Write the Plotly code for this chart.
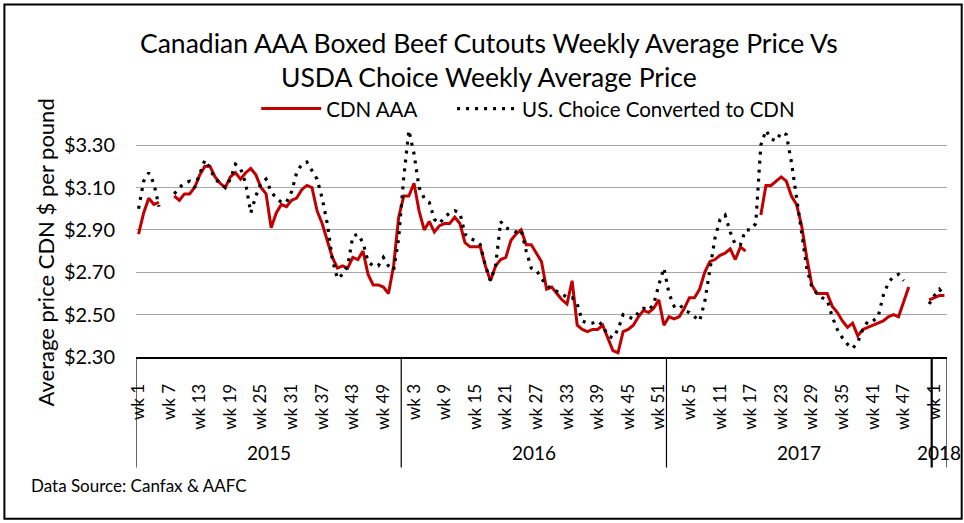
import plotly.graph_objects as go

# ---------------- data ----------------
years = ["2015", "2016", "2017", "2018"]
weeks_in_year = [52, 52, 52, 3]

cdn_2015 = [2.88, 2.98, 3.05, 3.02, 3.03, None, None, 3.06, 3.04, 3.07,
            3.07, 3.10, 3.16, 3.20, 3.20, 3.15, 3.12, 3.10, 3.15, 3.17,
            3.14, 3.17, 3.19, 3.16, 3.10, 3.07, 2.91, 2.98, 3.02, 3.01,
            3.04, 3.05, 3.09, 3.11, 3.10, 2.99, 2.93, 2.85, 2.77, 2.72,
            2.73, 2.72, 2.77, 2.76, 2.80, 2.69, 2.64, 2.64, 2.63, 2.60,
            2.73, 2.96]
cdn_2016 = [3.06, 3.06, 3.12, 2.99, 2.90, 2.94, 2.89, 2.92, 2.93, 2.93,
            2.96, 2.93, 2.84, 2.82, 2.82, 2.82, 2.73, 2.66, 2.73, 2.76,
            2.77, 2.85, 2.88, 2.90, 2.83, 2.83, 2.79, 2.75, 2.62, 2.63,
            2.60, 2.57, 2.55, 2.66, 2.45, 2.43, 2.42, 2.43, 2.43, 2.45,
            2.39, 2.33, 2.32, 2.42, 2.43, 2.45, 2.49, 2.52, 2.51, 2.53,
            2.57, 2.45]
cdn_2017 = [2.49, 2.48, 2.49, 2.53, 2.58, 2.58, 2.62, 2.70, 2.75, 2.76,
            2.78, 2.79, 2.81, 2.76, 2.82, 2.80, None, None, 2.97, 3.11,
            3.11, 3.13, 3.15, 3.13, 3.06, 3.02, 2.92, 2.77, 2.64, 2.60,
            2.60, 2.60, 2.54, 2.51, 2.47, 2.44, 2.46, 2.40, 2.43, 2.44,
            2.45, 2.46, 2.47, 2.49, 2.50, 2.49, 2.56, 2.63, None, None,
            None, 2.57]
cdn_2018 = [2.58, 2.59, 2.59]

us_2015 = [3.00, 3.13, 3.17, 3.12, 3.01, None, None, 3.07, 3.10, 3.12,
           3.13, 3.10, 3.17, 3.23, 3.19, 3.14, 3.12, 3.10, 3.14, 3.21,
           3.19, 3.12, 2.98, 3.06, 3.12, 3.14, 3.08, 3.05, 3.03, 3.03,
           3.08, 3.17, 3.21, 3.22, 3.18, 3.14, 3.05, 2.93, 2.76, 2.67,
           2.69, 2.73, 2.87, 2.88, 2.84, 2.75, 2.73, 2.73, 2.77, 2.73,
           2.71, 2.86]
us_2016 = [3.15, 3.37, 3.26, 3.10, 3.05, 3.03, 2.95, 2.93, 2.96, 2.98,
           2.99, 2.98, 2.88, 2.86, 2.85, 2.83, 2.73, 2.66, 2.73, 2.94,
           2.91, 2.90, 2.89, 2.90, 2.80, 2.72, 2.71, 2.67, 2.64, 2.62,
           2.61, 2.60, 2.58, 2.58, 2.55, 2.47, 2.46, 2.46, 2.47, 2.45,
           2.40, 2.39, 2.43, 2.50, 2.49, 2.48, 2.51, 2.53, 2.52, 2.55,
           2.64, 2.72]
us_2017 = [2.60, 2.54, 2.55, 2.52, 2.51, 2.49, 2.47, 2.56, 2.70, 2.86,
           2.95, 2.97, 2.89, 2.83, 2.83, 2.90, 2.90, 2.93, 3.30, 3.37,
           3.33, 3.32, 3.36, 3.35, 3.22, 3.06, 2.88, 2.72, 2.63, 2.60,
           2.58, 2.57, 2.49, 2.43, 2.39, 2.36, 2.34, 2.37, 2.43, 2.47,
           2.47, 2.49, 2.59, 2.65, 2.68, 2.69, 2.66, None, None, None,
           None, 2.55]
us_2018 = [2.59, 2.62, 2.59]

y_ticks = [2.30, 2.50, 2.70, 2.90, 3.10, 3.30]

# ---------------- build categories ----------------
cats, tick_vals, tick_text = [], [], []
for yr, n in zip(years, weeks_in_year):
    for w in range(1, n + 1):
        cats.append(f"{yr} wk {w}")
for k in range(0, len(cats), 6):
    tick_vals.append(cats[k])
    tick_text.append(cats[k].split(" ", 1)[1])

cdn = cdn_2015 + cdn_2016 + cdn_2017 + cdn_2018
us = us_2015 + us_2016 + us_2017 + us_2018

W, H = 964, 523
L, R, T, B = 135.7, 947.3, 124.2, 356.7


def px_x(p):
    return (p - L) / (R - L)


def px_y(p):
    return (B - p) / (B - T)


FONT = "Lato"

fig = go.Figure()
fig.add_trace(go.Scatter(x=cats, y=cdn, mode="lines", name="CDN AAA",
                         line=dict(color="#c00000", width=3),
                         showlegend=True, legend="legend"))
fig.add_trace(go.Scatter(x=cats, y=us, mode="lines",
                         name="US. Choice Converted to CDN",
                         line=dict(color="#000000", width=3.2, dash="3px,6px"),
                         showlegend=True, legend="legend2"))

# year separators and labels
shapes = []
annotations = []
start = 0
bounds = [-0.5]
for yr, n in zip(years, weeks_in_year):
    annotations.append(dict(x=start + (n - 1) / 2, y=px_y(452), xref="x", yref="paper",
                            text=yr, showarrow=False, yanchor="middle",
                            font=dict(size=19, color="black", family=FONT)))
    start += n
    bounds.append(start - 0.5)
for j, b in enumerate(bounds):
    wd = 2.2 if j == len(bounds) - 2 else 1.2
    shapes.append(dict(type="line", xref="x", yref="paper", x0=b, x1=b,
                       y0=0, y1=px_y(467), line=dict(color="black", width=wd)))

# outer border
shapes.append(dict(type="rect", xref="paper", yref="paper",
                   x0=px_x(4), x1=px_x(962), y0=px_y(5), y1=px_y(518),
                   line=dict(color="black", width=2)))

annotations.append(dict(x=px_x(489), y=px_y(60.5), xref="paper", yref="paper",
                        text="Canadian AAA Boxed Beef Cutouts Weekly Average Price Vs<br>"
                             "USDA Choice Weekly Average Price",
                        showarrow=False, yanchor="middle", xanchor="center",
                        font=dict(size=26.5, color="black", family=FONT)))
annotations.append(dict(x=px_x(45), y=px_y(252), xref="paper", yref="paper",
                        text="Average price CDN $ per pound", textangle=-90,
                        xanchor="center", yanchor="middle",
                        showarrow=False, font=dict(size=22, color="black", family=FONT)))
annotations.append(dict(x=px_x(29), y=px_y(497), xref="paper", yref="paper",
                        text="Data Source: Canfax &amp; AAFC", xanchor="left",
                        showarrow=False, font=dict(size=17, color="black", family=FONT)))

legend_style = dict(orientation="h", xanchor="left", yanchor="middle",
                    y=px_y(109), itemwidth=60, visible=True,
                    font=dict(size=20.5, color="black", family=FONT),
                    bgcolor="rgba(0,0,0,0)")

fig.update_layout(
    width=W, height=H,
    margin=dict(l=L, r=W - R, t=T, b=H - B, autoexpand=False),
    paper_bgcolor="#ffffff", plot_bgcolor="#ffffff",
    font=dict(family=FONT, color="black"),
    showlegend=True,
    legend=dict(legend_style, x=px_x(256)),
    legend2=dict(legend_style, x=px_x(452)),
    shapes=shapes,
    annotations=annotations,
)

fig.update_xaxes(type="category", categoryorder="array", categoryarray=cats,
                 range=[-0.5, len(cats) - 0.5],
                 tickmode="array", tickvals=tick_vals, ticktext=tick_text,
                 tickangle=-90, tickfont=dict(size=17, color="black", family=FONT),
                 ticks="", ticklabelstandoff=18,
                 showgrid=False, showline=True, linecolor="black", linewidth=2,
                 zeroline=False)
fig.update_yaxes(range=[2.30, 3.40], tickmode="array", tickvals=y_ticks,
                 ticktext=[f"${v:.2f}" for v in y_ticks],
                 tickfont=dict(size=20, color="black", family=FONT),
                 ticks="", ticklabelstandoff=20,
                 showgrid=True, gridcolor="#a6a6a6", gridwidth=1.3,
                 showline=False, zeroline=False)

fig.write_html("out.html", config={"displayModeBar": False},
               post_script="document.body.style.margin='0';")
